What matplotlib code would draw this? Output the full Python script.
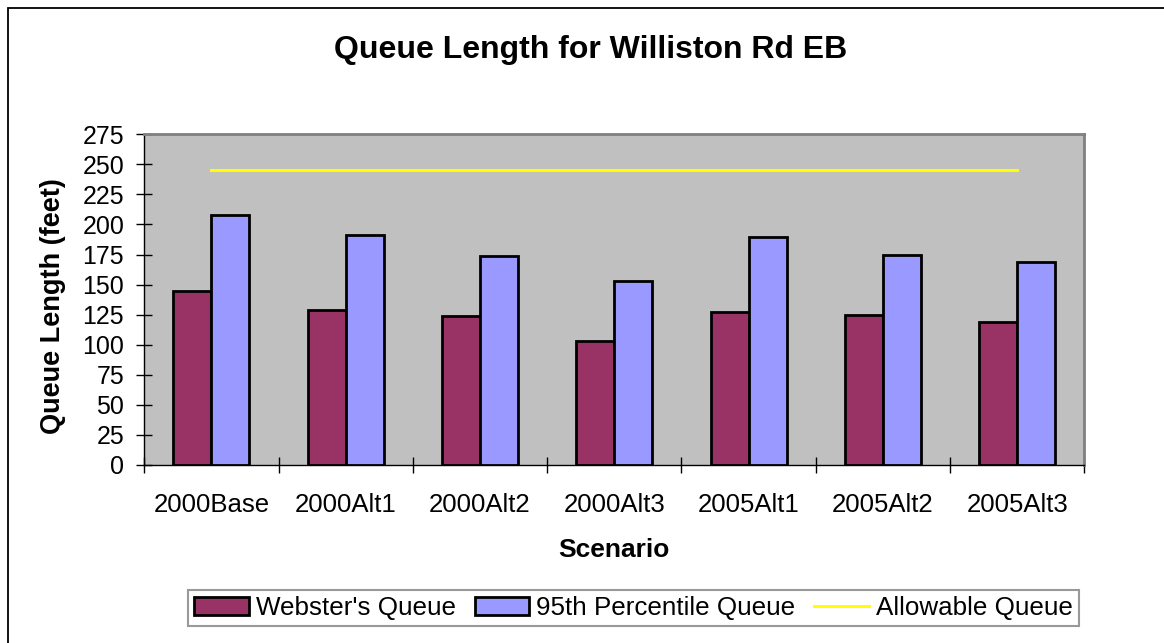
import matplotlib
matplotlib.use("Agg")
import matplotlib.pyplot as plt
import numpy as np
from matplotlib.patches import Rectangle

plt.rcParams['font.family'] = ['Liberation Sans', 'DejaVu Sans']

scenarios = ["2000Base", "2000Alt1", "2000Alt2", "2000Alt3", "2005Alt1", "2005Alt2", "2005Alt3"]
websters_queue = [145, 129, 124, 103, 127, 125, 119]
percentile95_queue = [208, 191, 174, 153, 190, 175, 168.5]
allowable_queue = [245, 245, 245, 245, 245, 245, 245]
yticks = list(range(0, 276, 25))

W, H = 1164, 643
fig = plt.figure(figsize=(W / 100, H / 100), dpi=100)
fig.patch.set_facecolor('white')

ax = fig.add_axes([144.3 / W, 1 - 465 / H, 940 / W, 330.7 / H])
ax.set_facecolor('#C0C0C0')

x = np.arange(len(scenarios))
bw = 0.283
b1 = ax.bar(x - bw / 2, websters_queue, bw, color='#993366', edgecolor='black', linewidth=2,
            label="Webster's Queue", zorder=3)
b2 = ax.bar(x + bw / 2, percentile95_queue, bw, color='#9999FF', edgecolor='black', linewidth=2,
            label="95th Percentile Queue", zorder=3)
l1, = ax.plot(x, allowable_queue, color='#FFFF00', linewidth=2.2, label="Allowable Queue", zorder=4)

ax.set_xlim(-0.5, len(scenarios) - 0.5)
ax.set_ylim(0, 275)
ax.set_yticks(yticks)
ax.set_yticklabels([str(v) for v in yticks], fontsize=18)
ax.set_xticks(x)
ax.set_xticklabels(scenarios, fontsize=18.5)
ax.set_xticks(np.arange(-0.5, len(scenarios)), minor=True)
ax.tick_params(axis='x', which='major', length=0, pad=20)
ax.tick_params(axis='x', which='minor', direction='inout', length=11, width=1)
ax.tick_params(axis='y', direction='inout', length=11, width=1, pad=9)

for s in ['top', 'right']:
    ax.spines[s].set_color('#808080')
    ax.spines[s].set_linewidth(2)
for s in ['left', 'bottom']:
    ax.spines[s].set_color('black')
    ax.spines[s].set_linewidth(1)

fig.text(591 / W, 1 - 58 / H, "Queue Length for Williston Rd EB", fontsize=23,
         fontweight='bold', ha='center', va='baseline')
fig.text(614 / W, 1 - 557 / H, "Scenario", fontsize=19, fontweight='bold',
         ha='center', va='baseline')
fig.text(53.5 / W, 1 - 306 / H, "Queue Length (feet)", fontsize=19.5, fontweight='bold',
         ha='center', va='center', rotation=90)

leg = fig.legend(handles=[b1, b2, l1], labels=["Webster's Queue", "95th Percentile Queue", "Allowable Queue"],
                 loc='center', bbox_to_anchor=(633.5 / W, 1 - 608 / H), ncol=3,
                 fontsize=18.7, frameon=True, fancybox=False, borderpad=0.25,
                 handlelength=2.1, handleheight=0.65, handletextpad=0.27,
                 columnspacing=0.73)
leg.get_frame().set_edgecolor('#808080')
leg.get_frame().set_linewidth(1.5)

border = Rectangle((8 / W, -0.2), 1.2, 1.2 - 8 / H, transform=fig.transFigure,
                   fill=False, edgecolor='black', linewidth=1.3)
fig.patches.append(border)

fig.savefig("out.png", dpi=100)
